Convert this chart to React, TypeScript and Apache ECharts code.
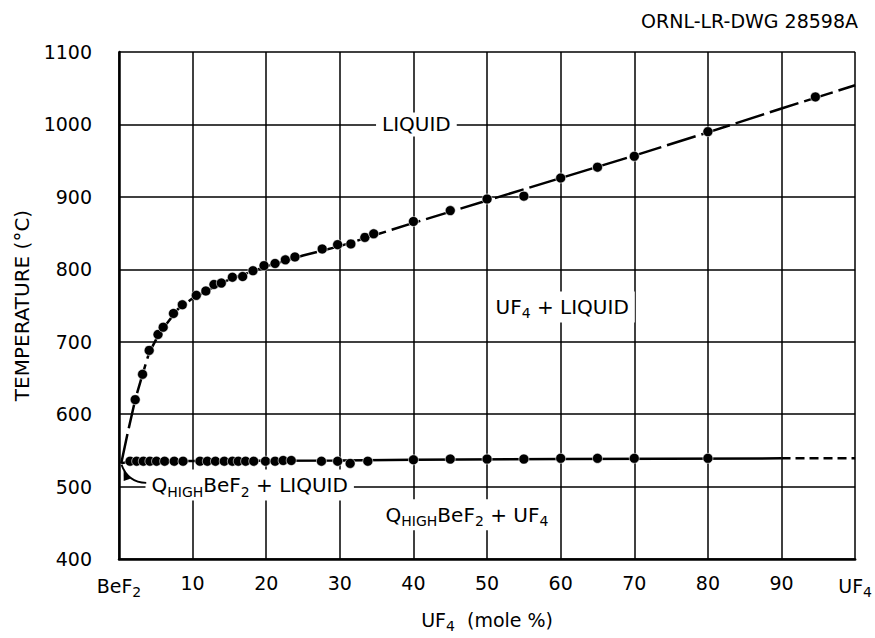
import React, { useEffect, useRef } from "react";
import * as echarts from "echarts";

// ---- data ----
// measured points (dots)
const liquidusX = [2.2, 3.2, 4.1, 5.3, 6.0, 7.4, 8.6, 10.5, 11.8, 12.9, 13.9, 15.4, 16.8, 18.2, 19.7, 21.2, 22.6, 23.9, 27.6, 29.7, 31.5, 33.4, 34.6, 40, 45, 50, 55, 60, 65, 70, 80, 94.6];
const liquidusT = [620, 655, 688, 710, 720, 739, 751, 764, 770, 779, 781, 789, 790, 798, 805, 808, 813, 817, 828, 834, 835, 844, 849, 866, 881, 897, 901, 926, 941, 956, 990, 1038];
// drawn (fitted) liquidus curve
const liquidusCurveX = [0.3, 1.2, 2.2, 3.2, 4.1, 5.3, 6.5, 8, 10, 12, 15, 20, 25, 30, 35, 40, 50, 60, 70, 80, 90, 100];
const liquidusCurveT = [532, 575, 620, 655, 685, 708, 725, 745, 760, 771, 786, 804, 819, 832, 848, 864, 895, 926, 957, 989, 1022, 1054];

const solidusX = [1.5, 2.4, 3.3, 4.2, 5.1, 6.2, 7.5, 8.7, 11.0, 12.0, 13.1, 14.3, 15.4, 16.2, 17.2, 18.3, 19.9, 21.2, 22.3, 23.4, 27.5, 29.7, 31.4, 33.8, 40, 45, 50, 55, 60, 65, 70, 80];
const solidusT = [535, 535, 535, 535, 535, 535, 535, 535, 535, 535, 535, 535, 535, 535, 535, 535, 535, 535, 536, 536, 535, 535, 532, 535, 537, 538, 538, 538, 539, 539, 539, 539];
// drawn solidus line (solid part, then dashed extrapolation)
const solidusLineX = [0.3, 1.5, 30, 40, 60, 90];
const solidusLineT = [532, 535, 536, 537, 538, 539];
const solidusDashX = [90, 100];
const solidusDashT = [539, 539];

const xTicks = [0, 10, 20, 30, 40, 50, 60, 70, 80, 90, 100];
const yTicks = [400, 500, 600, 700, 800, 900, 1000, 1100];

const FONT = "'DejaVu Sans', 'Liberation Sans', sans-serif";

const richStyles = {
  a: { fontSize: 19, fontFamily: FONT, color: "#000" },
  b: { fontSize: 20, fontFamily: FONT, color: "#000" },
  s: { fontSize: 14, fontFamily: FONT, color: "#000", padding: [12, 0, 0, 0] },
  t: { fontSize: 14, fontFamily: FONT, color: "#000", padding: [13, 0, 0, 0] },
};

export default function App() {
  const ref = useRef<HTMLDivElement>(null);
  useEffect(() => {
    if (!ref.current) return;
    const chart = echarts.init(ref.current, null, { renderer: "svg" });
    const dotStyle = {
      type: "scatter",
      symbol: "circle",
      symbolSize: 10,
      itemStyle: { color: "#000", opacity: 1, borderColor: "#fff", borderWidth: 0.6 },
      z: 6,
    };

    chart.setOption({
      animation: false,
      backgroundColor: "#fff",
      grid: { left: 119, right: 13, top: 52, bottom: 73 },
      xAxis: {
        type: "value",
        min: xTicks[0],
        max: xTicks[xTicks.length - 1],
        interval: 10,
        name: "{a|UF}{s|4}{a|  (mole %)}",
        nameLocation: "middle",
        nameGap: 48,
        nameTextStyle: { rich: richStyles },
        axisLine: { show: true, lineStyle: { color: "#000", width: 2.5 } },
        axisTick: { show: false },
        splitLine: { show: true, lineStyle: { color: "#000", width: 1.5 } },
        axisLabel: {
          margin: 14,
          formatter: (v: number) =>
            v === 0 ? "{a|BeF}{s|2}" : v === 100 ? "{a|UF}{s|4}" : "{a|" + v + "}",
          rich: richStyles,
        },
      },
      yAxis: {
        type: "value",
        min: yTicks[0],
        max: yTicks[yTicks.length - 1],
        interval: 100,
        name: "TEMPERATURE (°C)",
        nameLocation: "middle",
        nameGap: 87,
        nameTextStyle: { fontSize: 20, fontFamily: FONT, color: "#000" },
        axisLine: { show: true, lineStyle: { color: "#000", width: 2.5 } },
        axisTick: { show: false },
        splitLine: { show: true, lineStyle: { color: "#000", width: 1.5 } },
        axisLabel: {
          margin: 27,
          fontSize: 19,
          fontFamily: FONT,
          color: "#000",
          formatter: (v: number) => String(v),
        },
      },
      series: [
        {
          type: "line",
          data: liquidusCurveX.map((x, i) => [x, liquidusCurveT[i]]),
          symbol: "none",
          lineStyle: { color: "#000", width: 2.5, type: [30, 6] },
          z: 5,
        },
        {
          type: "line",
          data: solidusLineX.map((x, i) => [x, solidusLineT[i]]),
          symbol: "none",
          lineStyle: { color: "#000", width: 2.5 },
          z: 5,
        },
        {
          type: "line",
          data: solidusDashX.map((x, i) => [x, solidusDashT[i]]),
          symbol: "none",
          lineStyle: { color: "#000", width: 2.5, type: [9, 5] },
          z: 5,
        },
        { ...dotStyle, data: liquidusX.map((x, i) => [x, liquidusT[i]]) },
        { ...dotStyle, data: solidusX.map((x, i) => [x, solidusT[i]]) },
      ],
    });

    const P = (x: number, y: number) => chart.convertToPixel({ gridIndex: 0 }, [x, y]) as number[];
    const pLiq = P(40.4, 1000);
    const pUL = P(60.2, 748);
    const pQL = P(3.6, 502);
    const pQU = P(35.4, 461);
    const a0 = P(3.7, 505);
    const a1 = P(0.35, 530);
    const ac = P(1.2, 506);
    const dx = a1[0] - ac[0];
    const dy = a1[1] - ac[1];
    const len = Math.hypot(dx, dy) || 1;
    const ux = dx / len, uy = dy / len;
    const tip = [a1[0] - ux * 6, a1[1] - uy * 6];
    const base = [tip[0] - ux * 10, tip[1] - uy * 10];
    const head = [
      tip,
      [base[0] - uy * 3.5, base[1] + ux * 3.5],
      [base[0] + uy * 3.5, base[1] - ux * 3.5],
    ];

    const textBase = { fill: "#000", backgroundColor: "#fff", padding: [2, 6, 2, 6], rich: richStyles };
    chart.setOption({
      graphic: [
        {
          type: "text",
          x: pLiq[0],
          y: pLiq[1],
          z: 10,
          style: { ...textBase, text: "{b|LIQUID}", align: "center", verticalAlign: "middle" },
        },
        {
          type: "text",
          x: pUL[0],
          y: pUL[1],
          z: 10,
          style: { ...textBase, text: "{b|UF}{t|4}{b| + LIQUID}", align: "center", verticalAlign: "middle" },
        },
        {
          type: "text",
          x: pQL[0],
          y: pQL[1],
          z: 10,
          style: { ...textBase, text: "{b|Q}{t|HIGH}{b|BeF}{t|2}{b| + LIQUID}", align: "left", verticalAlign: "middle" },
        },
        {
          type: "text",
          x: pQU[0],
          y: pQU[1],
          z: 10,
          style: { ...textBase, text: "{b|Q}{t|HIGH}{b|BeF}{t|2}{b| + UF}{t|4}", align: "left", verticalAlign: "middle" },
        },
        {
          type: "bezierCurve",
          z: 11,
          shape: { x1: a0[0], y1: a0[1], x2: a1[0], y2: a1[1], cpx1: ac[0], cpy1: ac[1] },
          style: { stroke: "#000", lineWidth: 1.8, fill: null },
        },
        {
          type: "polygon",
          z: 11,
          shape: { points: head },
          style: { fill: "#000" },
        },
        {
          type: "text",
          right: 17,
          top: 11,
          z: 10,
          style: { text: "ORNL-LR-DWG 28598A", fill: "#000", font: "19px " + FONT },
        },
      ],
    });

    return () => chart.dispose();
  }, []);
  return (
    <div
      ref={ref}
      style={{ position: "fixed", left: 0, top: 0, width: 875, height: 638, background: "#fff" }}
    />
  );
}
